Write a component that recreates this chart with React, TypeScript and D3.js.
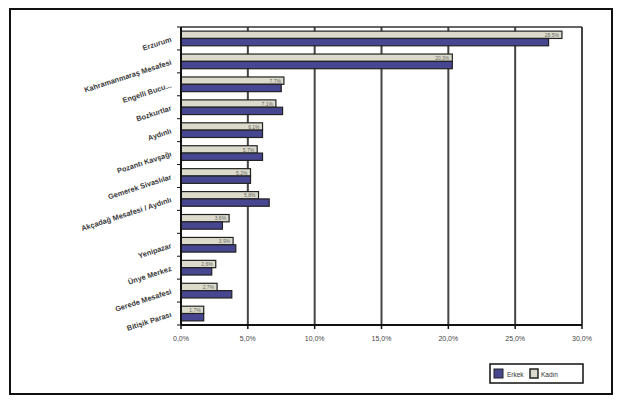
import React from "react";
import * as d3 from "d3";

const categories = [
  "Erzurum",
  "Kahramanmaraş Mesafesi",
  "Engelli Bucu...",
  "Bozkurtlar",
  "Aydınlı",
  "Pozantı Kavşağı",
  "Gemerek Sivaslılar",
  "Akçadağ Mesafesi / Aydınlı",
  "",
  "Yenipazar",
  "Ünye Merkez",
  "Gerede Mesafesi",
  "Bitişik Parası",
];
const seriesNames = ["Erkek", "Kadın"];
const lightValues = [28.5, 20.3, 7.7, 7.1, 6.1, 5.7, 5.2, 5.8, 3.6, 3.9, 2.6, 2.7, 1.7];
const darkValues = [27.5, 20.3, 7.5, 7.6, 6.1, 6.1, 5.2, 6.6, 3.1, 4.1, 2.3, 3.8, 1.7];
const xTicks = [0, 5, 10, 15, 20, 25, 30];

const W = 623;
const H = 405;
const L = 181, R = 582, T = 27, B = 325;

const fmt = (v: number) => v.toFixed(1).replace(".", ",") + "%";

export default function App() {
  const x = d3.scaleLinear().domain([0, 30]).range([L, R]);
  const y = d3.scaleBand<string>().domain(categories.map((c, i) => String(i))).range([T, B]).paddingInner(0.36).paddingOuter(0.18);
  const sub = d3.scaleBand<string>().domain(["a", "b"]).range([0, y.bandwidth()]);
  const LIGHT = "#dcdbcb";
  const DARK = "#474690";
  const step = (B - T) / categories.length;

  return (
    <svg width={W} height={H} style={{ position: "absolute", left: 0, top: 0, background: "#fff" }} fontFamily="'Liberation Sans', Arial, sans-serif">
      <rect x={10} y={9} width={602} height={385} fill="#fff" stroke="#111" strokeWidth={2} />
      {xTicks.map((t) => (
        <line key={"g" + t} x1={x(t)} x2={x(t)} y1={T} y2={B} stroke="#444" strokeWidth={2} />
      ))}
      <line x1={L} x2={R} y1={T} y2={T} stroke="#333" strokeWidth={1.5} />
      {categories.map((c, i) => {
        const y0 = y(String(i))!;
        return (
          <g key={"b" + i}>
            <rect x={x(0)} y={y0 + sub("a")!} width={x(lightValues[i]) - x(0)} height={sub.bandwidth()} fill={LIGHT} stroke="#222" strokeWidth={1.2} />
            <rect x={x(0)} y={y0 + sub("b")!} width={x(darkValues[i]) - x(0)} height={sub.bandwidth()} fill={DARK} stroke="#222" strokeWidth={1.2} />
            <text x={x(lightValues[i]) - 3} y={y0 + sub("a")! + sub.bandwidth() - 1.5} fontSize={5} textAnchor="end" fill="#666">{fmt(lightValues[i])}</text>
          </g>
        );
      })}
      <line x1={L} x2={L} y1={T} y2={B} stroke="#111" strokeWidth={2} />
      <line x1={L} x2={R} y1={B} y2={B} stroke="#111" strokeWidth={2} />
      {xTicks.map((t) => (
        <g key={"t" + t}>
          <line x1={x(t)} x2={x(t)} y1={B} y2={B + 4} stroke="#111" strokeWidth={1.5} />
          <text x={x(t)} y={B + 16} fontSize={7} textAnchor="middle" fill="#444">{fmt(t)}</text>
        </g>
      ))}
      {d3.range(categories.length + 1).map((i) => (
        <line key={"yt" + i} x1={L - 4} x2={L} y1={T + i * step} y2={T + i * step} stroke="#111" strokeWidth={1} />
      ))}
      {categories.map((c, i) => {
        const cy = y(String(i))! + y.bandwidth() / 2 + 3;
        return (
          <text key={"l" + i} transform={`translate(${L - 9},${cy}) rotate(-18)`} fontSize={7.4} fontWeight="bold" textAnchor="end" fill="#3a3a3a">{c}</text>
        );
      })}
      <rect x={490} y={364} width={93} height={19} fill="#fff" stroke="#111" strokeWidth={1.5} />
      <rect x={494} y={369} width={9} height={9} fill={DARK} stroke="#222" />
      <text x={507} y={376.5} fontSize={6.5} fill="#333">{seriesNames[0]}</text>
      <rect x={530} y={369} width={8} height={9} fill={LIGHT} stroke="#222" strokeWidth={1.5} />
      <text x={541} y={376.5} fontSize={6.5} fill="#333">{seriesNames[1]}</text>
    </svg>
  );
}
